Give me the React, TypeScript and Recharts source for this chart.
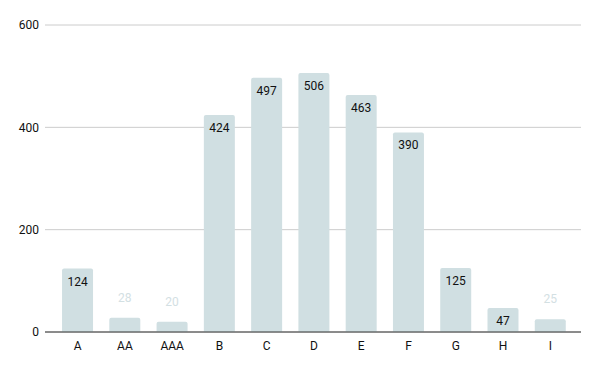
import { BarChart, Bar, XAxis, YAxis, CartesianGrid, LabelList } from "recharts";

const categories = ["A", "AA", "AAA", "B", "C", "D", "E", "F", "G", "H", "I"];
const values = [124, 28, 20, 424, 497, 506, 463, 390, 125, 47, 25];
const yTicks = [0, 200, 400, 600];

const data = categories.map((name, i) => ({ name, value: values[i] }));

const BAR = "#d0dfe2";
const TEXT = "#111";

// labels sit inside the bar top, or above it in a pale tint when the bar is short
const renderLabel = (props: any) => {
  const { x, y, width, value } = props;
  const small = value < 40;
  return (
    <text
      x={x + width / 2}
      y={small ? y - 20 : y + 13}
      textAnchor="middle"
      dominantBaseline="central"
      fontSize={12}
      fontFamily="Roboto"
      fill={small ? "#d3e0e3" : TEXT}
    >
      {value}
    </text>
  );
};

export default function App() {
  return (
    <div style={{ position: "fixed", left: 0, top: 0, width: 600, height: 371, background: "#fff" }}>
      <BarChart
        width={600}
        height={371}
        data={data}
        margin={{ top: 25, right: 19, bottom: 9, left: 0 }}
        barCategoryGap="17%"
      >
        <CartesianGrid vertical={false} stroke="#cccccc" />
        <YAxis
          width={45}
          domain={[0, 600]}
          ticks={yTicks}
          axisLine={false}
          tickLine={false}
          tick={{ fontSize: 12, fill: TEXT, fontFamily: "Roboto" }}
          tickMargin={0}
        />
        <XAxis
          dataKey="name"
          height={30}
          padding={{ left: 9, right: 7 }}
          axisLine={{ stroke: "#333" }}
          tickLine={false}
          tick={{ fontSize: 12, fill: TEXT, fontFamily: "Roboto" }}
          tickMargin={3}
        />
        <Bar dataKey="value" fill={BAR} radius={[2, 2, 0, 0]} isAnimationActive={false}>
          <LabelList dataKey="value" content={renderLabel} />
        </Bar>
      </BarChart>
    </div>
  );
}
